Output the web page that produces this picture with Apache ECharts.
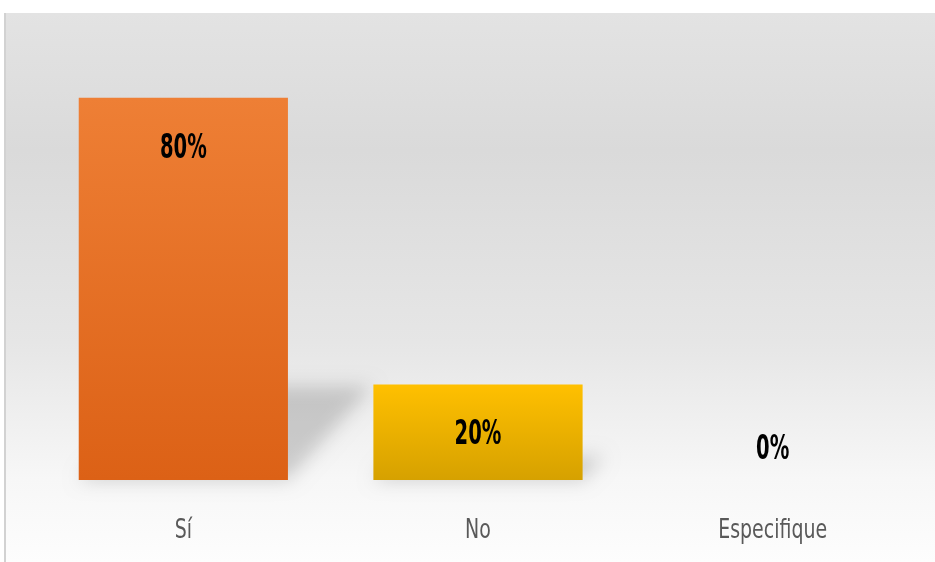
<!DOCTYPE html>
<html>
<head>
<meta charset="utf-8">
<script src="https://cdn.jsdelivr.net/npm/echarts@6/dist/echarts.min.js"></script>
<style>
  html, body { margin: 0; padding: 0; background: #ffffff; }
  #chart { width: 935px; height: 562px; }
</style>
</head>
<body>
<div id="chart"></div>
<script>
// Answers and their shares (percent)
const categories = ['Sí', 'No', 'Especifique'];
const values = [80, 20, 0];
const barColors = [
  ['#ee7f35', '#dc6116'],
  ['#ffc000', '#d6a100'],
  ['#ffc000', '#d6a100']
];

const NARROW = '"DejaVu Sans Condensed", "DejaVu Sans", sans-serif';
const BAR_FRACTION = 0.71;

const chart = echarts.init(document.getElementById('chart'), null, { renderer: 'canvas' });

function barGeometry(api) {
  const idx = api.value(0);
  const v = api.value(1);
  const base = api.coord([idx, 0]);
  const top = api.coord([idx, v]);
  const w = api.size([1, 0])[0] * BAR_FRACTION;
  return { idx, v, cx: base[0], base: base[1], top: top[1], w };
}

// Soft perspective shadow cast by each bar toward the upper right
function renderShadow(params, api) {
  const g = barGeometry(api);
  if (!g.v) return null;
  const h = g.base - g.top;
  const x0 = g.cx - g.w / 2, x1 = g.cx + g.w / 2, y0 = g.base;
  const rise = h * 0.245, lean = h * 0.22;
  const OFF = 3000; // shape drawn off-canvas, only its blurred shadow lands in view
  return {
    type: 'polygon',
    shape: {
      points: [
        [x0 - OFF, y0],
        [x1 - OFF, y0],
        [x1 + lean - OFF, y0 - rise],
        [x0 + lean - OFF, y0 - rise]
      ]
    },
    style: {
      fill: '#000',
      shadowBlur: 18,
      shadowColor: 'rgba(0,0,0,0.17)',
      shadowOffsetX: OFF,
      shadowOffsetY: 0
    }
  };
}

// Value labels and category names in a tall, narrow face
function renderLabels(params, api) {
  const g = barGeometry(api);
  const valueY = g.v > 0 ? g.top + 51 : g.base - 30;
  return {
    type: 'group',
    children: [
      {
        type: 'text',
        x: g.cx,
        y: valueY,
        scaleX: 0.64,
        style: {
          text: g.v + '%',
          x: 0, y: 0,
          align: 'center', verticalAlign: 'middle',
          textAlign: 'center', textVerticalAlign: 'middle',
          fontSize: 34, fontWeight: 'bold', fontFamily: NARROW,
          fill: '#000000'
        }
      },
      {
        type: 'text',
        x: g.cx,
        y: g.base + 51,
        scaleX: 0.78,
        style: {
          text: categories[g.idx],
          x: 0, y: 0,
          align: 'center', verticalAlign: 'middle',
          textAlign: 'center', textVerticalAlign: 'middle',
          fontSize: 27, fontFamily: NARROW,
          fill: '#595959'
        }
      }
    ]
  };
}

const points = values.map((v, i) => [i, v]);

chart.setOption({
  animation: false,
  backgroundColor: '#ffffff',
  graphic: [
    {
      type: 'rect',
      z: -20,
      silent: true,
      shape: { x: 5, y: 13, width: 930, height: 549 },
      style: {
        fill: new echarts.graphic.LinearGradient(0, 0, 0, 1, [
          { offset: 0, color: '#e3e3e3' },
          { offset: 0.25, color: '#dadada' },
          { offset: 0.6, color: '#e6e6e6' },
          { offset: 0.85, color: '#f7f7f7' },
          { offset: 1, color: '#fdfdfd' }
        ])
      }
    },
    {
      type: 'line',
      z: -19,
      silent: true,
      shape: { x1: 5, y1: 13, x2: 5, y2: 562 },
      style: { stroke: '#d2d2d2', lineWidth: 2 }
    }
  ],
  grid: { left: 36, right: 15, top: 50, bottom: 82 },
  xAxis: {
    type: 'category',
    data: categories,
    axisLine: { show: false },
    axisTick: { show: false },
    axisLabel: { show: false }
  },
  yAxis: {
    type: 'value',
    min: 0,
    max: 90,
    show: false,
    splitLine: { show: false }
  },
  series: [
    {
      type: 'custom',
      renderItem: renderShadow,
      data: points,
      z: 1,
      silent: true
    },
    {
      type: 'bar',
      z: 3,
      barWidth: (BAR_FRACTION * 100) + '%',
      data: values.map((v, i) => ({
        value: v,
        itemStyle: {
          color: new echarts.graphic.LinearGradient(0, 0, 0, 1, [
            { offset: 0, color: barColors[i][0] },
            { offset: 1, color: barColors[i][1] }
          ])
        }
      })),
      label: { show: false }
    },
    {
      type: 'custom',
      renderItem: renderLabels,
      data: points,
      z: 5,
      silent: true,
      clip: false
    }
  ]
});
</script>
</body>
</html>
